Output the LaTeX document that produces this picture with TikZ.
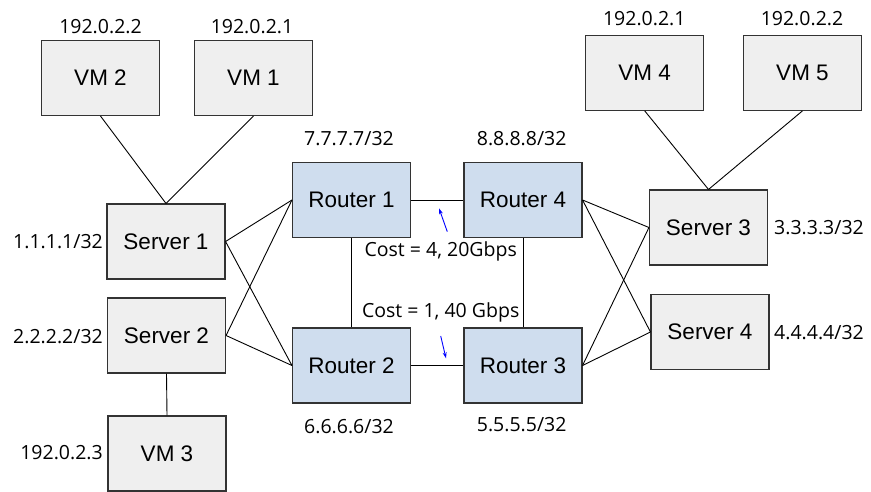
\documentclass[tikz,border=0pt]{standalone}
\usepackage{fontspec}
\setmainfont{Liberation Sans}
\newfontfamily\ipfont{Open Sans}
\usetikzlibrary{arrows.meta}
\definecolor{vmgrau}{RGB}{239,239,239}
\definecolor{routerblau}{RGB}{207,221,238}

\begin{document}
\begin{tikzpicture}[x=1pt, y=-1pt,
        kasten/.style={draw=black!80, line width=1.1pt, fill=vmgrau, minimum width=118pt, minimum height=75pt, inner sep=0pt, font=\fontsize{22.5}{27}\selectfont},
        router/.style={kasten, fill=routerblau},
        ip/.style={inner sep=1pt, font=\ipfont\fontsize{19.5}{23}\selectfont},
        kante/.style={line width=0.9pt},
        pfeil/.style={blue, line width=0.9pt, -{Stealth[length=6pt, width=4pt]}}
    ]

        \useasboundingbox (0,0) rectangle (871,492);

        \node[kasten] (vmZwei) at (100.5,78) {VM 2};  %VMs links oben
        \node[kasten] (vmEins) at (253.5,78) {VM 1};
        \node[kasten] (serverEins) at (166,241.5) {Server 1};  %Server links
        \node[kasten] (serverZwei) at (166.5,335.5) {Server 2};
        \node[kasten] (vmDrei) at (167,453.5) {VM 3};

        \node[router] (routerEins) at (351.5,200) {Router 1};  %Router
        \node[router] (routerZwei) at (351.5,365.5) {Router 2};
        \node[router] (routerVier) at (523,200) {Router 4};
        \node[router] (routerDrei) at (523,365.5) {Router 3};

        \node[kasten] (vmVier) at (644.7,72.8) {VM 4};  %VMs rechts oben
        \node[kasten] (vmFuenf) at (802.5,72.8) {VM 5};
        \node[kasten] (serverDrei) at (708.5,227.5) {Server 3};  %Server rechts
        \node[kasten] (serverVier) at (710,332) {Server 4};

        % Adressen
        \node[ip] (ipVmZwei) at (100.5,27) {192.0.2.2};
        \node[ip] (ipVmEins) at (252,27) {192.0.2.1};
        \node[ip, anchor=east] (ipServerEins) at (104,242) {1.1.1.1/32};
        \node[ip, anchor=east] (ipServerZwei) at (104,337) {2.2.2.2/32};
        \node[ip, anchor=east] (ipVmDrei) at (104,453) {192.0.2.3};
        \node[ip] (ipRouterEins) at (349,139) {7.7.7.7/32};
        \node[ip] (ipRouterVier) at (521.7,139) {8.8.8.8/32};
        \node[ip] (ipRouterZwei) at (349,427) {6.6.6.6/32};
        \node[ip] (ipRouterDrei) at (521.7,425) {5.5.5.5/32};
        \node[ip] (ipVmVier) at (644.3,18.3) {192.0.2.1};
        \node[ip] (ipVmFuenf) at (802,18.3) {192.0.2.2};
        \node[ip, anchor=west] (ipServerDrei) at (773,228) {3.3.3.3/32};
        \node[ip, anchor=west] (ipServerVier) at (773,333) {4.4.4.4/32};

        \node[ip] (kostenOben) at (440.7,251) {Cost = 4, 20Gbps};  %Kosten
        \node[ip] (kostenUnten) at (440.7,312) {Cost = 1, 40 Gbps};

        % Verbindungen
        \foreach \a/\b in {vmZwei.south/serverEins.north, vmEins.south/serverEins.north, serverZwei.south/vmDrei.north,
                serverEins.east/routerEins.west, serverEins.east/routerZwei.west, serverZwei.east/routerEins.west, serverZwei.east/routerZwei.west,
                routerEins.east/routerVier.west, routerZwei.east/routerDrei.west, routerEins.south/routerZwei.north, routerVier.south/routerDrei.north,
                routerVier.east/serverDrei.west, routerVier.east/serverVier.west, routerDrei.east/serverDrei.west, routerDrei.east/serverVier.west,
                vmVier.south/serverDrei.north, vmFuenf.south/serverDrei.north}
            {
                \draw[kante] (\a) -- (\b);
            };

        \coordinate (pfeilEinsA) at (447.3,231.7);  %blaue Pfeile
        \coordinate (pfeilEinsB) at (439,208.3);
        \coordinate (pfeilZweiA) at (440.7,336);
        \coordinate (pfeilZweiB) at (446,358.3);
        \draw[pfeil] (pfeilEinsA) -- (pfeilEinsB);
        \draw[pfeil] (pfeilZweiA) -- (pfeilZweiB);

    \end{tikzpicture}
\end{document}
